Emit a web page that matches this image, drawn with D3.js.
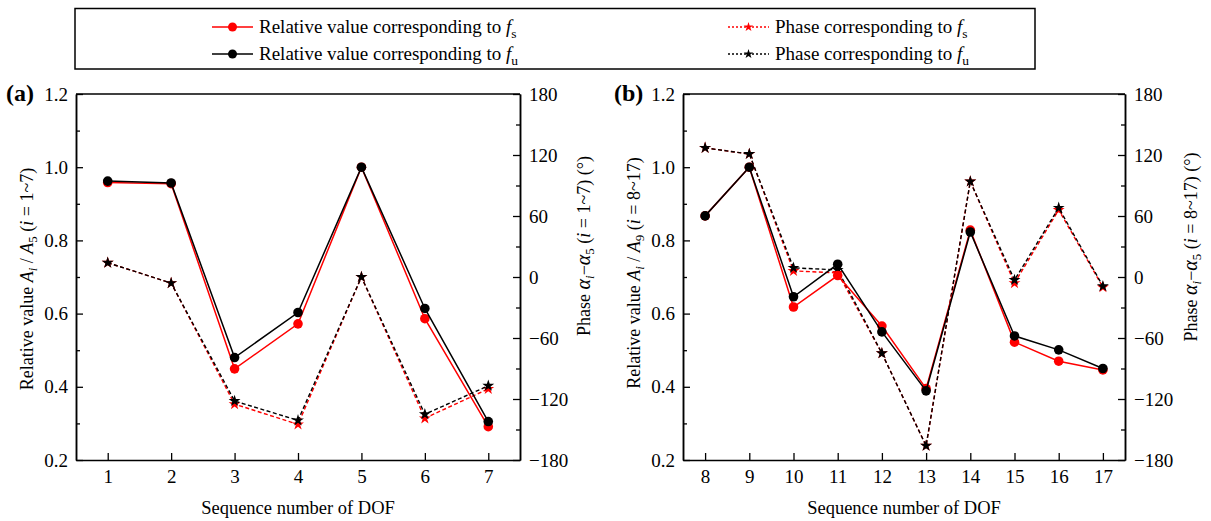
<!DOCTYPE html>
<html><head><meta charset="utf-8">
<script src="https://cdn.jsdelivr.net/npm/d3@7"></script>
<style>body{margin:0;background:#fff} svg, svg text{font-family:"Liberation Serif","Times New Roman",Times,"DejaVu Serif",serif !important}</style>
</head><body><svg id="c" width="1211" height="521"></svg>
<script>
// ---- data ----
const dofA = [1,2,3,4,5,6,7];
const relFsA = [0.958,0.955,0.449,0.572,1.0,0.586,0.291];
const relFuA = [0.962,0.957,0.480,0.603,1.0,0.614,0.305];
const phFsA = [14,-6,-125,-145,0,-139,-110];
const phFuA = [14,-6,-122,-141,0,-135,-107];

const dofB = [8,9,10,11,12,13,14,15,16,17];
const relFsB = [0.867,1.0,0.618,0.704,0.566,0.395,0.828,0.522,0.470,0.446];
const relFuB = [0.867,1.0,0.646,0.735,0.550,0.389,0.823,0.539,0.501,0.450];
const phFsB = [127,121,6,4,-75,-166,94,-6,66,-10];
const phFuB = [127,121,9,7,-75,-166,94,-3,68,-9];

const relTicks = [0.2,0.4,0.6,0.8,1.0,1.2];
const relMinor = [0.3,0.5,0.7,0.9,1.1];
const phTicks = [-180,-120,-60,0,60,120,180];
const phMinor = [-150,-90,-30,30,90,150];

const legendItems = [
  {label:"Relative value corresponding to ", sub:"s", color:"#ff0000", kind:"rel"},
  {label:"Relative value corresponding to ", sub:"u", color:"#000000", kind:"rel"},
  {label:"Phase corresponding to ", sub:"s", color:"#ff0000", kind:"ph"},
  {label:"Phase corresponding to ", sub:"u", color:"#000000", kind:"ph"}
];

const svg = d3.select("#c");
const RED = "#ff0000", BLK = "#000000";
const star = d3.symbol().type(d3.symbolStar).size(44);
const starSmall = d3.symbol().type(d3.symbolStar).size(28);

function panel(cfg){
  const g = svg.append("g");
  const x = d3.scaleLinear().domain(cfg.xdom).range([cfg.left, cfg.right]);
  const yL = d3.scaleLinear().domain([0.2,1.2]).range([cfg.bottom, cfg.top]);
  const yR = d3.scaleLinear().domain([-180,180]).range([cfg.bottom, cfg.top]);

  g.append("line").attr("x1",cfg.left).attr("x2",cfg.right).attr("y1",cfg.top).attr("y2",cfg.top)
    .attr("stroke","#000").attr("stroke-width",1.5);

  const ax = (sel)=>{sel.attr("font-family",null);
    sel.selectAll("path.domain").attr("stroke-width",1.5);
    sel.selectAll(".tick line").attr("stroke-width",1.3);
    sel.selectAll("text").attr("font-size",19).attr("fill","#000");};
  g.append("g").attr("transform",`translate(${cfg.left},0)`)
    .call(d3.axisLeft(yL).tickValues(relMinor).tickSizeInner(-4).tickSizeOuter(0).tickFormat(""))
    .call(ax);
  g.append("g").attr("transform",`translate(${cfg.left},0)`)
    .call(d3.axisLeft(yL).tickValues(relTicks).tickSizeInner(-7).tickSizeOuter(0).tickPadding(8).tickFormat(d3.format(".1f")))
    .call(ax);
  g.append("g").attr("transform",`translate(${cfg.right},0)`)
    .call(d3.axisRight(yR).tickValues(phMinor).tickSizeInner(-4).tickSizeOuter(0).tickFormat(""))
    .call(ax);
  g.append("g").attr("transform",`translate(${cfg.right},0)`)
    .call(d3.axisRight(yR).tickValues(phTicks).tickSizeInner(-7).tickSizeOuter(0).tickPadding(9))
    .call(ax);
  g.append("g").attr("transform",`translate(0,${cfg.bottom})`)
    .call(d3.axisBottom(x).tickValues(cfg.dof).tickSizeInner(-7).tickSizeOuter(0).tickPadding(10).tickFormat(d3.format("d")))
    .call(ax);

  const lineP = d3.line().x((d,i)=>x(cfg.dof[i])).y(d=>yR(d));
  const lineR = d3.line().x((d,i)=>x(cfg.dof[i])).y(d=>yL(d));
  [[cfg.phFs,RED],[cfg.phFu,BLK]].forEach(([arr,c])=>{
    g.append("path").attr("d",lineP(arr)).attr("fill","none").attr("stroke",c)
      .attr("stroke-width",1.4).attr("stroke-dasharray","4,2.5");
    g.selectAll(null).data(arr).enter().append("path").attr("d",star)
      .attr("transform",(d,i)=>`translate(${x(cfg.dof[i])},${yR(d)})`).attr("fill",c);
  });
  [[cfg.relFs,RED],[cfg.relFu,BLK]].forEach(([arr,c])=>{
    g.append("path").attr("d",lineR(arr)).attr("fill","none").attr("stroke",c).attr("stroke-width",1.5);
    g.selectAll(null).data(arr).enter().append("circle")
      .attr("cx",(d,i)=>x(cfg.dof[i])).attr("cy",d=>yL(d)).attr("r",4.8).attr("fill",c);
  });

  g.append("text").attr("x",cfg.labX).attr("y",101).attr("font-size",24).attr("font-weight","bold").text(cfg.lab);

  g.append("text").attr("x",(cfg.left+cfg.right)/2).attr("y",514).attr("text-anchor","middle")
    .attr("font-size",18.5).text("Sequence number of DOF");

  const tl = g.append("text").attr("transform",`translate(${cfg.ltX},${cfg.ltY}) rotate(-90)`)
    .attr("text-anchor","middle").attr("font-size",18);
  tl.append("tspan").text("Relative value ");
  tl.append("tspan").attr("font-style","italic").text("A");
  tl.append("tspan").attr("font-style","italic").attr("font-size",13).attr("dy",4).text("i");
  tl.append("tspan").attr("dy",-4).text(" / ");
  tl.append("tspan").attr("font-style","italic").text("A");
  tl.append("tspan").attr("font-size",13).attr("dy",4).text(cfg.ref);
  tl.append("tspan").attr("dy",-4).text(" (");
  tl.append("tspan").attr("font-style","italic").text("i");
  tl.append("tspan").text(" = "+cfg.range+")");

  const tr = g.append("text").attr("transform",`translate(${cfg.rtX},${cfg.rtY}) rotate(-90)`)
    .attr("text-anchor","middle").attr("font-size",18);
  tr.append("tspan").text("Phase ");
  tr.append("tspan").attr("font-style","italic").attr("font-size",20).text("α");
  tr.append("tspan").attr("font-style","italic").attr("font-size",13).attr("dy",4).text("i");
  tr.append("tspan").attr("dy",-4).text("−");
  tr.append("tspan").attr("font-style","italic").attr("font-size",20).text("α");
  tr.append("tspan").attr("font-size",13).attr("dy",4).text("5");
  tr.append("tspan").attr("dy",-4).text(" (");
  tr.append("tspan").attr("font-style","italic").text("i");
  tr.append("tspan").text(" = "+cfg.range+") (°)");
}

panel({left:76,right:520,top:94,bottom:460,xdom:[0.5,7.5],dof:dofA,
  relFs:relFsA,relFu:relFuA,phFs:phFsA,phFu:phFuA,lab:"(a)",labX:6,
  ltX:33,ltY:279,rtX:590,rtY:246,ref:"5",range:"1~7"});
panel({left:683,right:1125,top:94,bottom:460,xdom:[7.5,17.5],dof:dofB,
  relFs:relFsB,relFu:relFuB,phFs:phFsB,phFu:phFuB,lab:"(b)",labX:614,
  ltX:640,ltY:273,rtX:1197,rtY:247,ref:"9",range:"8~17"});

const lg = svg.append("g");
lg.append("rect").attr("x",75).attr("y",8.5).attr("width",960).attr("height",60.5)
  .attr("fill","none").attr("stroke","#000").attr("stroke-width",1.5);
const pos = [{x:212,y:27},{x:212,y:54},{x:728,y:27},{x:728,y:54}];
legendItems.forEach((it,i)=>{
  const p = pos[i];
  const gi = lg.append("g");
  gi.append("line").attr("x1",p.x).attr("x2",p.x+41).attr("y1",p.y).attr("y2",p.y)
    .attr("stroke",it.color).attr("stroke-width",1.5)
    .attr("stroke-dasharray",it.kind==="ph"?"2,2":null);
  if(it.kind==="rel") gi.append("circle").attr("cx",p.x+20.5).attr("cy",p.y).attr("r",4.5).attr("fill",it.color);
  else gi.append("path").attr("d",starSmall).attr("transform",`translate(${p.x+20.5},${p.y})`).attr("fill",it.color);
  const t = gi.append("text").attr("x",p.x+47).attr("y",p.y+6).attr("font-size",19);
  t.append("tspan").text(it.label);
  t.append("tspan").attr("font-style","italic").text("f");
  t.append("tspan").attr("font-size",13.5).attr("dy",5).text(it.sub);
});
</script></body></html>
